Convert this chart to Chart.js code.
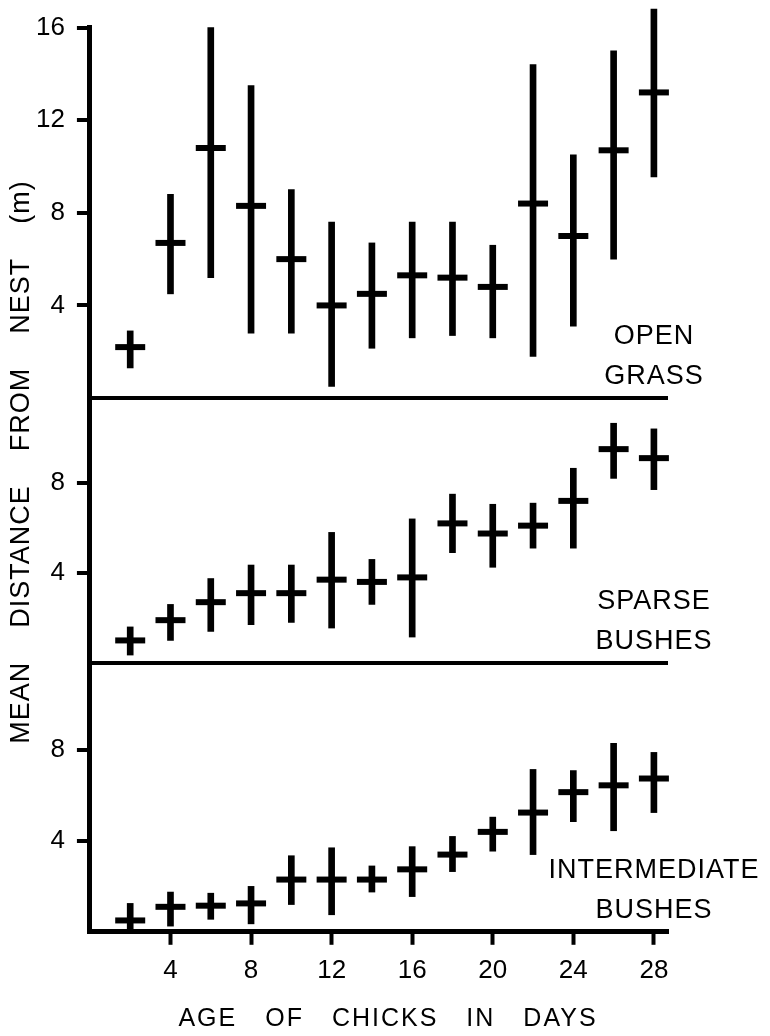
<!DOCTYPE html>
<html>
<head>
<meta charset="utf-8">
<title>Mean distance from nest</title>
<script src="https://cdn.jsdelivr.net/npm/chart.js@4.4.1/dist/chart.umd.min.js"></script>
<style>
  html, body { margin: 0; padding: 0; background: #fff; }
  #wrap { width: 770px; height: 1036px; position: relative; }
</style>
</head>
<body>
<div id="wrap"><canvas id="grafica"></canvas></div>
<script>
// age of chicks (days)
const days = [2, 4, 6, 8, 10, 12, 14, 16, 18, 20, 22, 24, 26, 28];

// open grass
const openMean = [2.2, 6.7, 10.8, 8.3, 6.0, 4.0, 4.5, 5.3, 5.2, 4.8, 8.4, 7.0, 10.7, 13.2];
const openLow  = [1.3, 4.5, 5.2, 2.8, 2.8, 0.5, 2.15, 2.6, 2.7, 2.6, 1.8, 3.1, 6.0, 9.55];
const openHigh = [2.9, 8.8, 16.0, 13.5, 9.0, 7.6, 6.7, 7.6, 7.6, 6.6, 14.4, 10.5, 15.0, 16.8];

// sparse bushes
const sparseMean = [1.0, 1.9, 2.7, 3.1, 3.1, 3.7, 3.6, 3.8, 6.2, 5.75, 6.1, 7.2, 9.5, 9.1];
const sparseLow  = [0.35, 1.0, 1.4, 1.7, 1.8, 1.55, 2.6, 1.15, 4.9, 4.25, 5.1, 5.1, 8.2, 7.7];
const sparseHigh = [1.6, 2.6, 3.75, 4.35, 4.35, 5.8, 4.6, 6.4, 7.5, 7.05, 7.1, 8.65, 10.65, 10.4];

// intermediate bushes
const interMean = [0.5, 1.1, 1.15, 1.25, 2.3, 2.3, 2.3, 2.75, 3.4, 4.4, 5.25, 6.15, 6.45, 6.75];
const interLow  = [0.05, 0.25, 0.55, 0.35, 1.2, 0.75, 1.75, 1.55, 2.65, 3.55, 3.4, 4.85, 4.45, 5.25];
const interHigh = [1.25, 1.75, 1.7, 2.0, 3.35, 3.7, 2.9, 3.75, 4.2, 5.05, 7.15, 7.1, 8.3, 7.9];

const panelNames = [['OPEN', 'GRASS'], ['SPARSE', 'BUSHES'], ['INTERMEDIATE', 'BUSHES']];
const yTitle = ['MEAN', 'DISTANCE', 'FROM', 'NEST', '(m)'];
const xTitle = ['AGE', 'OF', 'CHICKS', 'IN', 'DAYS'];

const FONT = "'Liberation Sans', Arial, Helvetica, sans-serif";

function rangeBars(low, high, axis) {
  return {
    type: 'bar',
    data: days.map((d, i) => ({ x: d, y: [low[i], high[i]] })),
    yAxisID: axis,
    backgroundColor: '#000',
    borderWidth: 0,
    barThickness: 6,
    grouped: false,
    clip: false
  };
}

function meanMarks(mean, axis) {
  return {
    type: 'scatter',
    data: days.map((d, i) => ({ x: d, y: mean[i] })),
    yAxisID: axis,
    pointStyle: 'line',
    pointRadius: 15,
    pointHoverRadius: 15,
    pointBorderWidth: 6,
    pointHoverBorderWidth: 6,
    borderColor: '#000',
    backgroundColor: '#000',
    clip: false
  };
}

function panelAxis(max, weight) {
  return {
    type: 'linear',
    position: 'left',
    stack: 'panels',
    stackWeight: weight,
    min: 0,
    max: max,
    border: { color: '#000', width: 5 },
    grid: {
      drawOnChartArea: true,
      color: c => (c.tick && c.tick.value === 0) ? '#000' : 'rgba(0,0,0,0)',
      lineWidth: 4,
      tickColor: c => (c.tick && c.tick.value === 0) ? 'rgba(0,0,0,0)' : '#000',
      tickLength: 13,
      tickWidth: 4
    },
    ticks: {
      stepSize: 4,
      includeBounds: false,
      color: '#000',
      padding: 12,
      font: { family: FONT, size: 26 },
      callback: v => v === 0 ? '' : v
    }
  };
}

// words drawn centred on (0,0) with a fixed gap between them
function drawWords(ctx, words, gap) {
  const widths = words.map(w => ctx.measureText(w).width);
  const total = widths.reduce((a, b) => a + b, 0) + gap * (words.length - 1);
  let x = -total / 2;
  ctx.textAlign = 'left';
  words.forEach((w, i) => {
    ctx.fillText(w, x, 0);
    x += widths[i] + gap;
  });
}

const texts = {
  id: 'texts',
  afterDraw(chart) {
    const ctx = chart.ctx;
    const area = chart.chartArea;
    ctx.save();
    ctx.fillStyle = '#000';
    ctx.textBaseline = 'middle';

    // panel names
    ctx.font = `27px ${FONT}`;
    if ('letterSpacing' in ctx) ctx.letterSpacing = '1px';
    ctx.textAlign = 'center';
    ['yTop', 'yMid', 'yBot'].forEach((id, i) => {
      const sc = chart.scales[id];
      ctx.fillText(panelNames[i][0], area.right - 14, sc.bottom - 61);
      ctx.fillText(panelNames[i][1], area.right - 14, sc.bottom - 21);
    });

    // y title
    ctx.save();
    ctx.translate(22, 462);
    ctx.rotate(-Math.PI / 2);
    drawWords(ctx, yTitle, 34);
    ctx.restore();

    // x title
    ctx.font = `25px ${FONT}`;
    if ('letterSpacing' in ctx) ctx.letterSpacing = '2px';
    ctx.save();
    ctx.translate(388, 1019);
    drawWords(ctx, xTitle, 28);
    ctx.restore();

    ctx.restore();
  }
};

new Chart(document.getElementById('grafica'), {
  type: 'bar',
  data: {
    datasets: [
      rangeBars(openLow, openHigh, 'yTop'),
      meanMarks(openMean, 'yTop'),
      rangeBars(sparseLow, sparseHigh, 'yMid'),
      meanMarks(sparseMean, 'yMid'),
      rangeBars(interLow, interHigh, 'yBot'),
      meanMarks(interMean, 'yBot')
    ]
  },
  options: {
    responsive: true,
    maintainAspectRatio: false,
    animation: false,
    events: [],
    layout: { padding: { top: 25, right: 102, left: 24, bottom: 40 } },
    plugins: {
      legend: { display: false },
      tooltip: { enabled: false }
    },
    scales: {
      x: {
        type: 'linear',
        offset: false,
        min: 0,
        max: 28.7,
        border: { color: '#000', width: 5 },
        grid: {
          offset: false,
          drawOnChartArea: false,
          tickLength: 13,
          tickWidth: 4,
          tickColor: c => (c.tick && c.tick.value === 0) ? 'rgba(0,0,0,0)' : '#000'
        },
        ticks: {
          stepSize: 4,
          includeBounds: false,
          maxRotation: 0,
          color: '#000',
          padding: 10,
          font: { family: FONT, size: 26 },
          callback: v => v === 0 ? '' : v
        }
      },
      yBot: panelAxis(11.84, 270),
      yMid: panelAxis(11.77, 266),
      yTop: panelAxis(16, 372)
    }
  },
  plugins: [texts]
});
</script>
</body>
</html>
